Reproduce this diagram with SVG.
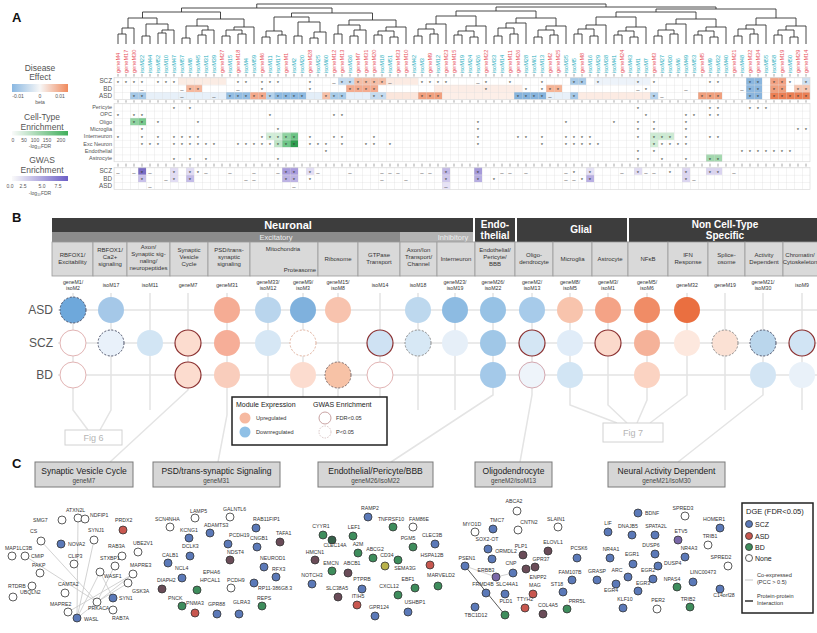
<svg xmlns="http://www.w3.org/2000/svg" width="817" height="633" viewBox="0 0 817 633" font-family="'Liberation Sans', Arial, sans-serif">
<style>
text{font-family:"Liberation Sans",Arial,sans-serif}
.pl{font-size:13px;font-weight:bold;fill:#111}
.lg{font-size:8.5px;fill:#555;text-anchor:middle}
.lgs{font-size:5px;fill:#555;text-anchor:middle}
.rl{font-size:6.3px;fill:#555;text-anchor:end}
.rs{font-size:5.5px;fill:#555;text-anchor:end}
.st{font-size:6px;fill:#333;text-anchor:middle}
.cr{font-size:5.6px;fill:#e8505b}
.cc{font-size:5.6px;fill:#26aebd}
.dend{fill:none;stroke:#333;stroke-width:0.9}
.hd{font-size:10px;font-weight:bold;fill:#fff;text-anchor:middle}
.sh{font-size:7.5px;fill:#eee;text-anchor:middle}
.mb{fill:#d9d9d9;stroke:#9a9a9a;stroke-width:0.8}
.mt{font-size:6px;fill:#333;text-anchor:middle}
.mid{font-size:5.2px;fill:#333;text-anchor:middle}
.gl{fill:none;stroke:#e4e4e4;stroke-width:1.5}
.dl{font-size:12px;fill:#555;text-anchor:end}
.dsh{stroke:#4a4f66;stroke-width:1;stroke-dasharray:2 1.6}
.dsl{stroke:#8a8a8a;stroke-width:1;stroke-dasharray:2 1.6}
.sig{stroke:#8b3030;stroke-width:1.2}
.pk{stroke:#e2b4b4;stroke-width:1}
.fig{fill:#fff;stroke:#d2d2d2;stroke-width:1}
.figt{font-size:9px;fill:#b5b5b5;text-anchor:middle}
.cb{fill:#d6d6d6;stroke:#7a7a7a;stroke-width:1}
.ct{font-size:8.5px;fill:#222;text-anchor:middle}
.cs{font-size:6.3px;fill:#444;text-anchor:middle}
.nl{font-size:5.2px;fill:#333}
.nm{font-size:5.2px;fill:#333;text-anchor:middle}
.n{stroke:#333;stroke-width:0.8}
.nb{fill:#5b79b8}.nr{fill:#c8574f}.ng{fill:#3e8d5c}.nw{fill:#fff}.nd{fill:#6a4c58}.ny{fill:#b9b24a}.np{fill:#7a68a8}.ndg{fill:#35604a}
.ce{stroke:#c6c6c6;stroke-width:0.8;fill:none}
.pe{stroke:#5a5a5a;stroke-width:1;fill:none}
.leg{font-size:7px;fill:#222}
.legs{font-size:5.6px;fill:#333}
</style>
<defs>
<linearGradient id="gDE" x1="0" x2="1"><stop offset="0" stop-color="#8ab8e2"/><stop offset="0.5" stop-color="#f7f7f7"/><stop offset="1" stop-color="#f08a5d"/></linearGradient>
<linearGradient id="gCT" x1="0" x2="1"><stop offset="0" stop-color="#fafafa"/><stop offset="1" stop-color="#3fae5a"/></linearGradient>
<linearGradient id="gGW" x1="0" x2="1"><stop offset="0" stop-color="#fafafa"/><stop offset="1" stop-color="#6c5fc7"/></linearGradient>
<pattern id="gA" x="114" y="77.5" width="8" height="7.3" patternUnits="userSpaceOnUse"><path d="M0 0V7.3M0 0H8" stroke="#d8d8d8" stroke-width="0.6" fill="none"/></pattern>
<pattern id="gB" x="114" y="103.35" width="8" height="7.3" patternUnits="userSpaceOnUse"><path d="M0 0V7.3M0 0H8" stroke="#d8d8d8" stroke-width="0.6" fill="none"/></pattern>
<pattern id="gC" x="114" y="167.5" width="8" height="7.3" patternUnits="userSpaceOnUse"><path d="M0 0V7.3M0 0H8" stroke="#d8d8d8" stroke-width="0.6" fill="none"/></pattern>
<pattern id="tk" x="114" y="0" width="8" height="633" patternUnits="userSpaceOnUse"><path d="M4 0V633" stroke="#666" stroke-width="0.6"/></pattern>
</defs>
<rect width="817" height="633" fill="#fff"/>

<!-- ===== PANEL A ===== -->
<g id="panelA">
<text class="pl" x="12" y="22">A</text>
<g id="legendA">
<text class="lg" x="40" y="70.5">Disease</text><text class="lg" x="40" y="80.1">Effect</text>
<rect x="12" y="84" width="56" height="8" fill="url(#gDE)"/>
<text class="lgs" x="18" y="98">-0.01</text><text class="lgs" x="40" y="98">0</text><text class="lgs" x="60" y="98">0.01</text>
<text class="lgs" x="40" y="104">beta</text>
<text class="lg" x="42" y="120">Cell-Type</text><text class="lg" x="42" y="129.6">Enrichment</text>
<rect x="12" y="131" width="56" height="4.5" fill="url(#gCT)"/>
<text class="lgs" x="13" y="142">0</text><text class="lgs" x="24" y="142">50</text><text class="lgs" x="35" y="142">100</text><text class="lgs" x="47" y="142">150</text><text class="lgs" x="61" y="142">200</text>
<text class="lgs" x="40" y="148">-log₁₀FDR</text>
<text class="lg" x="42" y="163">GWAS</text><text class="lg" x="42" y="172.6">Enrichment</text>
<rect x="12" y="176" width="56" height="5" fill="url(#gGW)"/>
<text class="lgs" x="10" y="188">0.0</text><text class="lgs" x="23" y="188">2.5</text><text class="lgs" x="42" y="188">5.0</text><text class="lgs" x="58" y="188">7.5</text>
<text class="lgs" x="40" y="195">-log₁₀FDR</text>
</g>

<g id="dendrogram">
<path class="dend" d="M118 44V34H126V44M122 34V28H134V44M142 44V36H150V44M158 44V33H166V44M162 33V30H174V44M146 36V24H168V30M182 44V38H190V44M198 44V35H206V44M202 35V30H214V44M186 38V26H208V30M222 44V36H230V44M238 44V34H246V44M226 36V30H242V34M234 30V27H254V44M262 44V37H270V44M278 44V35H286V44M266 37V31H282V35M294 44V36H302V44M310 44V38H318V44M314 38V32H326V44M298 36V22H320V32M334 44V34H342V44M350 44V36H358V44M354 36V30H366V44M338 34V25H360V30M374 44V35H382V44M390 44V37H398V44M378 35V31H394V37M386 31V27H406V44M414 44V36H422V44M430 44V34H438V44M418 36V29H434V34M426 29V24H446V44M454 44V35H462V44M470 44V37H478V44M458 35V31H474V37M466 31V26H486V44M494 44V36H502V44M510 44V34H518V44M498 36V28H514V34M506 28V23H526V44M534 44V37H542V44M550 44V35H558V44M538 37V30H554V35M546 30V26H566V44M574 44V34H582V44M590 44V36H598V44M578 34V29H594V36M586 29V25H606V44M614 44V35H622V44M630 44V37H638V44M618 35V31H634V37M626 31V27H646V44M654 44V36H662V44M670 44V34H678V44M658 36V30H674V34M666 30V24H686V44M694 44V35H702V44M710 44V37H718V44M698 35V31H714V37M706 31V27H726V44M734 44V36H742V44M750 44V34H758V44M738 36V29H754V34M746 29V25H766V44M774 44V35H782V44M790 44V37H798V44M778 35V30H794V37M786 30V26H806V44M128 28V18H157V24M197 26V19H244V27M274 31V17H309V22M349 25V20H396V27M436 24V16H476V26M516 23V18H556V26M596 25V17H636V27M676 24V19H716V27M756 25V18H796V26M142.5 18V12H220.5V19M291.5 17V13H372.5V20M456 16V11H536V18M616 17V12H696V19M656 12V9H776V18M181.5 12V8H332V13M496 11V7H716V9M256.75 8V4H606V7"/>
</g>

<g id="columnLabels" transform="rotate(-90)">
<text class="cr" x="-73" y="120">geneM4</text><text class="cr" x="-73" y="128">geneM17</text><text class="cr" x="-73" y="136">geneM30</text><text class="cc" x="-73" y="144">isoM22</text><text class="cc" x="-73" y="152">isoM44</text><text class="cc" x="-73" y="160">isoM52</text><text class="cc" x="-73" y="168">isoM10</text><text class="cc" x="-73" y="176">isoM47</text><text class="cc" x="-73" y="184">isoM57</text><text class="cc" x="-73" y="192">isoM8</text><text class="cc" x="-73" y="200">isoM45</text><text class="cc" x="-73" y="208">isoM31</text><text class="cc" x="-73" y="216">isoM39</text><text class="cr" x="-73" y="224">geneM27</text><text class="cc" x="-73" y="232">isoM15</text><text class="cr" x="-73" y="240">geneM18</text><text class="cc" x="-73" y="248">isoM4</text><text class="cc" x="-73" y="256">isoM59</text><text class="cr" x="-73" y="264">geneM6</text><text class="cc" x="-73" y="272">isoM11</text><text class="cc" x="-73" y="280">isoM17</text><text class="cr" x="-73" y="288">geneM1</text><text class="cc" x="-73" y="296">isoM2</text><text class="cc" x="-73" y="304">isoM20</text><text class="cr" x="-73" y="312">geneM28</text><text class="cc" x="-73" y="320">isoM25</text><text class="cc" x="-73" y="328">isoM60</text><text class="cr" x="-73" y="336">geneM12</text><text class="cr" x="-73" y="344">geneM13</text><text class="cc" x="-73" y="352">isoM36</text><text class="cr" x="-73" y="360">geneM7</text><text class="cr" x="-73" y="368">geneM31</text><text class="cr" x="-73" y="376">geneM20</text><text class="cc" x="-73" y="384">isoM18</text><text class="cc" x="-73" y="392">isoM51</text><text class="cr" x="-73" y="400">geneM33</text><text class="cr" x="-73" y="408">geneM10</text><text class="cc" x="-73" y="416">isoM42</text><text class="cc" x="-73" y="424">isoM3</text><text class="cr" x="-73" y="432">geneM9</text><text class="cc" x="-73" y="440">isoM12</text><text class="cr" x="-73" y="448">geneM23</text><text class="cr" x="-73" y="456">geneM15</text><text class="cc" x="-73" y="464">isoM19</text><text class="cc" x="-73" y="472">isoM24</text><text class="cc" x="-73" y="480">isoM26</text><text class="cr" x="-73" y="488">geneM22</text><text class="cc" x="-73" y="496">isoM33</text><text class="cc" x="-73" y="504">isoM14</text><text class="cr" x="-73" y="512">geneM11</text><text class="cr" x="-73" y="520">geneM26</text><text class="cc" x="-73" y="528">isoM28</text><text class="cc" x="-73" y="536">isoM61</text><text class="cc" x="-73" y="544">isoM13</text><text class="cr" x="-73" y="552">geneM2</text><text class="cr" x="-73" y="560">geneM25</text><text class="cc" x="-73" y="568">isoM35</text><text class="cc" x="-73" y="576">isoM5</text><text class="cr" x="-73" y="584">geneM8</text><text class="cc" x="-73" y="592">isoM16</text><text class="cc" x="-73" y="600">isoM29</text><text class="cc" x="-73" y="608">isoM38</text><text class="cc" x="-73" y="616">isoM41</text><text class="cr" x="-73" y="624">geneM24</text><text class="cc" x="-73" y="632">isoM43</text><text class="cc" x="-73" y="640">isoM1</text><text class="cc" x="-73" y="648">isoM7</text><text class="cr" x="-73" y="656">geneM3</text><text class="cc" x="-73" y="664">isoM27</text><text class="cc" x="-73" y="672">isoM30</text><text class="cc" x="-73" y="680">isoM6</text><text class="cc" x="-73" y="688">isoM49</text><text class="cc" x="-73" y="696">isoM53</text><text class="cr" x="-73" y="704">geneM5</text><text class="cc" x="-73" y="712">isoM9</text><text class="cc" x="-73" y="720">isoM32</text><text class="cc" x="-73" y="728">isoM40</text><text class="cr" x="-73" y="736">geneM21</text><text class="cc" x="-73" y="744">isoM48</text><text class="cr" x="-73" y="752">geneM32</text><text class="cr" x="-73" y="760">geneM34</text><text class="cc" x="-73" y="768">isoM55</text><text class="cc" x="-73" y="776">isoM58</text><text class="cr" x="-73" y="784">geneM19</text><text class="cc" x="-73" y="792">isoM50</text><text class="cr" x="-73" y="800">geneM29</text><text class="cr" x="-73" y="808">geneM14</text>
</g>

<g id="rowLabels">
<text class="rl" x="112" y="83.3">SCZ</text><text class="rl" x="112" y="90.6">BD</text><text class="rl" x="112" y="97.9">ASD</text>
<text class="rs" x="112" y="109">Pericyte</text><text class="rs" x="112" y="116.3">OPC</text><text class="rs" x="112" y="123.6">Oligo</text><text class="rs" x="112" y="130.9">Microglia</text><text class="rs" x="112" y="138.2">Interneuron</text><text class="rs" x="112" y="145.5">Exc Neuron</text><text class="rs" x="112" y="152.8">Endothelial</text><text class="rs" x="112" y="160.1">Astrocyte</text>
<text class="rl" x="112" y="173.3">SCZ</text><text class="rl" x="112" y="180.6">BD</text><text class="rl" x="112" y="187.9">ASD</text>
</g>

<g id="heatCells">
<rect x="178" y="77.5" width="48" height="7.3" fill="#fbece4"/>
<rect x="338" y="77.5" width="16" height="7.3" fill="#c6dcf0"/>
<rect x="354" y="77.5" width="32" height="7.3" fill="#f5bea6"/>
<rect x="386" y="77.5" width="32" height="7.3" fill="#fcebe3"/>
<rect x="594" y="77.5" width="56" height="7.3" fill="#edf3fa"/>
<rect x="570" y="77.5" width="16" height="7.3" fill="#a9cbe8"/>
<rect x="746" y="77.5" width="16" height="7.3" fill="#8ab6de"/>
<rect x="770" y="77.5" width="16" height="7.3" fill="#f2a283"/>
<rect x="802" y="77.5" width="8" height="7.3" fill="#cfe1f2"/>
<rect x="186" y="84.8" width="16" height="7.3" fill="#f6b89e"/>
<rect x="346" y="84.8" width="32" height="7.3" fill="#f4ac90"/>
<rect x="434" y="84.8" width="88" height="7.3" fill="#fcede6"/>
<rect x="546" y="84.8" width="16" height="7.3" fill="#f6b496"/>
<rect x="746" y="84.8" width="16" height="7.3" fill="#8eb8df"/>
<rect x="770" y="84.8" width="16" height="7.3" fill="#f0a07f"/>
<rect x="794" y="84.8" width="16" height="7.3" fill="#f7c7b2"/>
<rect x="130" y="92.1" width="16" height="7.3" fill="#a6c9e7"/>
<rect x="146" y="92.1" width="80" height="7.3" fill="#e7f0f9"/>
<rect x="226" y="92.1" width="24" height="7.3" fill="#94bee3"/>
<rect x="250" y="92.1" width="16" height="7.3" fill="#f3a98c"/>
<rect x="266" y="92.1" width="8" height="7.3" fill="#b4d2ec"/>
<rect x="274" y="92.1" width="32" height="7.3" fill="#8fbbe2"/>
<rect x="306" y="92.1" width="16" height="7.3" fill="#e3eef8"/>
<rect x="322" y="92.1" width="8" height="7.3" fill="#f6c0a8"/>
<rect x="330" y="92.1" width="16" height="7.3" fill="#a8cbe8"/>
<rect x="346" y="92.1" width="24" height="7.3" fill="#e6eff9"/>
<rect x="370" y="92.1" width="16" height="7.3" fill="#c5dbef"/>
<rect x="386" y="92.1" width="32" height="7.3" fill="#fbe6dc"/>
<rect x="418" y="92.1" width="24" height="7.3" fill="#f1a07f"/>
<rect x="442" y="92.1" width="72" height="7.3" fill="#fdefe8"/>
<rect x="514" y="92.1" width="32" height="7.3" fill="#87b4dd"/>
<rect x="546" y="92.1" width="24" height="7.3" fill="#e8f0f9"/>
<rect x="570" y="92.1" width="8" height="7.3" fill="#a5c8e7"/>
<rect x="578" y="92.1" width="72" height="7.3" fill="#fcebe3"/>
<rect x="650" y="92.1" width="8" height="7.3" fill="#b7d3ec"/>
<rect x="698" y="92.1" width="24" height="7.3" fill="#f0a07e"/>
<rect x="746" y="92.1" width="16" height="7.3" fill="#8ab5dd"/>
<rect x="770" y="92.1" width="40" height="7.3" fill="#eb7f55"/>
<rect x="130" y="117.95" width="8" height="7.3" fill="#8fd3a0"/>
<rect x="138" y="117.95" width="8" height="7.3" fill="#79c98e"/>
<rect x="266" y="132.55" width="16" height="7.3" fill="#d2eed8"/>
<rect x="282" y="132.55" width="8" height="7.3" fill="#8ed3a0"/>
<rect x="290" y="132.55" width="8" height="7.3" fill="#6cc485"/>
<rect x="274" y="139.85" width="8" height="7.3" fill="#bfe5c7"/>
<rect x="282" y="139.85" width="8" height="7.3" fill="#6fc688"/>
<rect x="290" y="139.85" width="8" height="7.3" fill="#2f9d4f"/>
<rect x="650" y="132.55" width="24" height="7.3" fill="#cdebd3"/>
<rect x="650" y="139.85" width="8" height="7.3" fill="#d2eed8"/>
<rect x="706" y="154.45" width="16" height="7.3" fill="#a3d8ae"/>
<rect x="138" y="167.5" width="8" height="7.3" fill="#7a6cc4"/>
<rect x="138" y="174.8" width="8" height="7.3" fill="#c9c1ea"/>
<rect x="170" y="167.5" width="8" height="14.6" fill="#e2ddf4"/>
<rect x="186" y="167.5" width="8" height="7.3" fill="#e0dbf3"/>
<rect x="186" y="174.8" width="8" height="7.3" fill="#c4bce8"/>
<rect x="282" y="167.5" width="16" height="7.3" fill="#a99cdc"/>
<rect x="282" y="174.8" width="16" height="7.3" fill="#bdb3e4"/>
<rect x="306" y="167.5" width="8" height="7.3" fill="#e2ddf4"/>
<rect x="442" y="167.5" width="8" height="7.3" fill="#c2b9e6"/>
<rect x="442" y="174.8" width="8" height="7.3" fill="#cfc8ec"/>
<rect x="442" y="182.1" width="8" height="7.3" fill="#e6e2f6"/>
<rect x="474" y="167.5" width="8" height="7.3" fill="#a59ad9"/>
<rect x="474" y="174.8" width="8" height="7.3" fill="#b7aee2"/>
<rect x="586" y="167.5" width="8" height="7.3" fill="#e5e1f5"/>
<rect x="586" y="174.8" width="8" height="7.3" fill="#b9afe3"/>
<rect x="634" y="167.5" width="8" height="7.3" fill="#e1dcf3"/>
<rect x="682" y="167.5" width="8" height="14.6" fill="#dcd6f1"/>
<rect x="706" y="167.5" width="16" height="7.3" fill="#dad4f0"/>
</g>

<g id="heatGrid">
<rect x="114" y="77.5" width="696" height="21.9" fill="url(#gA)" stroke="#d8d8d8" stroke-width="0.6"/>
<rect x="114" y="103.35" width="696" height="58.4" fill="url(#gB)" stroke="#d8d8d8" stroke-width="0.6"/>
<rect x="114" y="167.5" width="696" height="21.9" fill="url(#gC)" stroke="#d8d8d8" stroke-width="0.6"/>
<rect x="114" y="74" width="696" height="2.6" fill="url(#tk)"/>
<rect x="114" y="100.2" width="696" height="2.4" fill="url(#tk)"/>
<rect x="114" y="163.6" width="696" height="3" fill="url(#tk)"/>
</g>

<g id="heatMarks">
<text class="st" x="118 126 134 142 158 166 174 238 246 262 270 278 310 334 342 350 358 366 374 382 390 422 430 438 446 478 486 510 542 574 582 598 638 654 710 718 750 758 774 782 790 806" y="84.6">*************–******–****–****************</text>
<text class="st" x="142 182 190 198 238 262 310 350 358 366 374 486 526 542 550 558 638 646 686 742 750 758 774 782 798 806" y="91.9">––**–***********–*––******</text>
<text class="st" x="134 142 182 214 230 238 246 254 262 270 278 286 294 302 326 334 342 374 382 422 430 438 518 526 534 542 550 574 654 662 702 710 718 750 758 774 782 790 798 806" y="99.2">**––**********************–**–**********</text>
<text class="st" x="174 190 638 710 718 750 758 766" y="110.5">********</text>
<text class="st" x="118 134 142 270 334 342 646 686 694 710 718" y="117.8">***********</text>
<text class="st" x="134 142 158 198 478 566 614 638 654 686" y="125.1">**********</text>
<text class="st" x="142 278 478 638 654 686 798 806" y="132.4">********</text>
<text class="st" x="118 142 158 174 182 190 198 262 270 278 286 294 310 334 342 374 478 518 526 542 566 574 582 590 638 654 662 670 686 710 718" y="139.7">*******************************</text>
<text class="st" x="142 150 158 174 182 190 198 206 214 238 246 254 262 270 278 286 294 310 318 326 342 366 374 390 478 542 566 574 582 590 598 654 662 670 678 686" y="147">************************************</text>
<text class="st" x="326 638 654 742 750 758 766 774 782 790" y="154.3">**********</text>
<text class="st" x="174 190 206 278 638 662 686 710 718" y="161.6">*********</text>
<text class="st" x="118 134 142 150 174 190 198 206 230 254 278 286 294 310 318 350 382 390 398 422 430 446 478 502 510 526 566 574 590 622 638 646 654 670 686 710 718 734" y="174.65">––*–***––––***–––––––**––––**–*––****–</text>
<text class="st" x="142 166 174 190 246 254 286 294 310 382 406 446 478 494 566 574 582 590 686 694" y="181.95">*–**––***––***––***–</text>
<text class="st" x="150 294 446" y="189.25">–––</text>
</g>
</g>

<!-- ===== PANEL B ===== -->
<g id="panelB">
<text class="pl" x="12" y="222">B</text>
<g id="headerB">
<rect x="52" y="218" width="421" height="14" fill="#3d3d3d"/>
<rect x="52" y="232" width="348" height="10" fill="#8c8c8c"/>
<rect x="400" y="232" width="73" height="10" fill="#b3b3b3"/>
<text x="288" y="229" font-size="11px" font-weight="bold" fill="#fff" text-anchor="middle">Neuronal</text>
<text class="sh" x="276" y="240">Excitatory</text>
<text class="sh" x="453" y="240">Inhibitory</text>
<rect x="475" y="218" width="40" height="24" fill="#3d3d3d"/>
<text class="hd" x="495" y="228">Endo-</text><text class="hd" x="495" y="239">thelial</text>
<rect x="517" y="218" width="110" height="24" fill="#3d3d3d"/>
<text class="hd" x="581" y="233">Glial</text>
<rect x="629" y="218" width="188" height="24" fill="#3d3d3d"/>
<text class="hd" x="725" y="228">Non Cell-Type</text><text class="hd" x="725" y="239">Specific</text>
</g>
<g id="moduleBoxes">
<rect class="mb" x="52" y="242" width="41" height="34"/><text class="mt" x="72.5" y="257">RBFOX1/</text><text class="mt" x="72.5" y="264">Excitability</text>
<rect class="mb" x="93" y="242" width="34" height="34"/><text class="mt" x="110" y="252">RBFOX1/</text><text class="mt" x="110" y="259">Ca2+</text><text class="mt" x="110" y="266">signaling</text>
<rect class="mb" x="127" y="242" width="43" height="34"/><text class="mt" x="148.5" y="249" font-size="5.6px">Axon/</text><text class="mt" x="148.5" y="256" font-size="5.6px">Synaptic sig-</text><text class="mt" x="148.5" y="263" font-size="5.6px">naling/</text><text class="mt" x="148.5" y="270" font-size="5.6px">neuropeptides</text>
<rect class="mb" x="170" y="242" width="38" height="34"/><text class="mt" x="189" y="252">Synaptic</text><text class="mt" x="189" y="259">Vesicle</text><text class="mt" x="189" y="266">Cycle</text>
<rect class="mb" x="208" y="242" width="42" height="34"/><text class="mt" x="229" y="252">PSD/trans-</text><text class="mt" x="229" y="259">synaptic</text><text class="mt" x="229" y="266">signaling</text>
<rect class="mb" x="250" y="242" width="68" height="34"/><text class="mt" x="283" y="251">Mitochondria</text><text class="mt" x="300" y="272">Proteasome</text>
<rect class="mb" x="318" y="242" width="40" height="34"/><text class="mt" x="338" y="261">Ribosome</text>
<rect class="mb" x="358" y="242" width="42" height="34"/><text class="mt" x="379" y="257">GTPase</text><text class="mt" x="379" y="264">Transport</text>
<rect class="mb" x="400" y="242" width="37" height="34"/><text class="mt" x="418.5" y="252">Axon/Ion</text><text class="mt" x="418.5" y="259">Transport/</text><text class="mt" x="418.5" y="266">Channel</text>
<rect class="mb" x="437" y="242" width="38" height="34"/><text class="mt" x="456" y="261">Interneuron</text>
<rect class="mb" x="475" y="242" width="40" height="34"/><text class="mt" x="495" y="252">Endothelial/</text><text class="mt" x="495" y="259">Pericyte/</text><text class="mt" x="495" y="266">BBB</text>
<rect class="mb" x="515" y="242" width="38" height="34"/><text class="mt" x="534" y="257">Oligo-</text><text class="mt" x="534" y="264">dendrocyte</text>
<rect class="mb" x="553" y="242" width="39" height="34"/><text class="mt" x="572.5" y="261">Microglia</text>
<rect class="mb" x="592" y="242" width="36" height="34"/><text class="mt" x="610" y="261">Astrocyte</text>
<rect class="mb" x="628" y="242" width="40" height="34"/><text class="mt" x="648" y="261">NFκB</text>
<rect class="mb" x="668" y="242" width="40" height="34"/><text class="mt" x="688" y="257">IFN</text><text class="mt" x="688" y="264">Response</text>
<rect class="mb" x="708" y="242" width="37" height="34"/><text class="mt" x="726.5" y="257">Splice-</text><text class="mt" x="726.5" y="264">osome</text>
<rect class="mb" x="745" y="242" width="38" height="34"/><text class="mt" x="764" y="257">Activity</text><text class="mt" x="764" y="264">Dependent</text>
<rect class="mb" x="783" y="242" width="40" height="34"/><text class="mt" x="800" y="257" font-size="5.2px">Chromatin/</text><text class="mt" x="800" y="264" font-size="5.2px">Cytoskeleton</text>
</g>
<g id="moduleIds">
<text class="mid" x="73" y="284">geneM1/</text><text class="mid" x="73" y="290">isoM2</text>
<text class="mid" x="111" y="287">isoM17</text>
<text class="mid" x="150" y="287">isoM11</text>
<text class="mid" x="188" y="287">geneM7</text>
<text class="mid" x="227" y="287">geneM31</text>
<text class="mid" x="268" y="284">geneM33/</text><text class="mid" x="268" y="290">isoM12</text>
<text class="mid" x="303" y="284">geneM9/</text><text class="mid" x="303" y="290">isoM3</text>
<text class="mid" x="338" y="284">geneM15/</text><text class="mid" x="338" y="290">isoM8</text>
<text class="mid" x="380" y="287">isoM14</text>
<text class="mid" x="418" y="287">isoM18</text>
<text class="mid" x="455" y="284">geneM23/</text><text class="mid" x="455" y="290">isoM19</text>
<text class="mid" x="493" y="284">geneM26/</text><text class="mid" x="493" y="290">isoM22</text>
<text class="mid" x="532" y="284">geneM2/</text><text class="mid" x="532" y="290">isoM13</text>
<text class="mid" x="570" y="284">geneM8/</text><text class="mid" x="570" y="290">isoM5</text>
<text class="mid" x="608" y="284">geneM3/</text><text class="mid" x="608" y="290">isoM1</text>
<text class="mid" x="647" y="284">geneM5/</text><text class="mid" x="647" y="290">isoM6</text>
<text class="mid" x="687" y="287">geneM32</text>
<text class="mid" x="725" y="287">geneM19</text>
<text class="mid" x="763" y="284">geneM21/</text><text class="mid" x="763" y="290">isoM30</text>
<text class="mid" x="802" y="287">isoM9</text>
</g>
<g id="connectorsB">
<path class="gl" d="M58 310H817M58 343H817M58 375H817"/>
<path class="gl" d="M73 293V410L88 430M111 293V410L100 430M150 293V410M188 293V390L110 462M227 293V415L218 462M268 293V410M303 293V410M338 293V410M380 293V410M418 293V410M455 293V410M493 293V395L391 462M532 293V395L520 462M570 293V405L617 423M608 293V405L627 423M647 293V400L637 423M687 293V395L650 423M725 293V410M763 293V395L678 462M802 293V410"/>
</g>
<text class="dl" x="53" y="314">ASD</text><text class="dl" x="53" y="347">SCZ</text><text class="dl" x="53" y="379">BD</text>
<g id="circlesASD">
<circle cx="73" cy="310" r="13" fill="#6ea8db" class="dsh"/>
<circle cx="111" cy="310" r="13" fill="#a5c8e8"/>
<circle cx="227" cy="310" r="13" fill="#f5ac94"/>
<circle cx="268" cy="310" r="13" fill="#b9d5ed"/>
<circle cx="303" cy="310" r="13" fill="#7fb1dd"/>
<circle cx="338" cy="310" r="13" fill="#f8c3ae"/>
<circle cx="418" cy="310" r="13" fill="#bdd8ee"/>
<circle cx="455" cy="310" r="13" fill="#8dbbe2"/>
<circle cx="493" cy="310" r="13" fill="#97c2e5"/>
<circle cx="532" cy="310" r="13" fill="#a7cbea"/>
<circle cx="570" cy="310" r="13" fill="#f8c4ad"/>
<circle cx="608" cy="310" r="13" fill="#f4a386"/>
<circle cx="647" cy="310" r="13" fill="#f08c66"/>
<circle cx="687" cy="310" r="13" fill="#ea6f40"/>
</g>
<g id="circlesSCZ">
<circle cx="73" cy="343" r="13" fill="#fff" class="pk"/>
<circle cx="111" cy="343" r="13" fill="#e9f1fa" class="dsh"/>
<circle cx="150" cy="343" r="13" fill="#d2e5f4"/>
<circle cx="188" cy="343" r="13" fill="#fcdccf" class="sig"/>
<circle cx="227" cy="343" r="13" fill="#f6ae98"/>
<circle cx="268" cy="343" r="13" fill="#d6e7f5"/>
<circle cx="303" cy="343" r="13" fill="#fff" stroke="#e0b09c" stroke-width="1" stroke-dasharray="2 1.6"/>
<circle cx="380" cy="343" r="13" fill="#cfe2f3" class="sig"/>
<circle cx="418" cy="343" r="13" fill="#d7e8f5" class="dsl"/>
<circle cx="455" cy="343" r="13" fill="#e6eff8"/>
<circle cx="493" cy="343" r="13" fill="#a0c7e7"/>
<circle cx="532" cy="343" r="13" fill="#d4e6f4" class="sig"/>
<circle cx="570" cy="343" r="13" fill="#e0ecf8"/>
<circle cx="608" cy="343" r="13" fill="#fbd9cb" class="sig"/>
<circle cx="647" cy="343" r="13" fill="#f5b299"/>
<circle cx="687" cy="343" r="13" fill="#fde8de"/>
<circle cx="725" cy="343" r="13" fill="#fbe1d4" class="dsl"/>
<circle cx="763" cy="343" r="13" fill="#bad6ec" class="dsh"/>
<circle cx="802" cy="343" r="13" fill="#d1e4f4" class="sig"/>
</g>
<g id="circlesBD">
<circle cx="73" cy="375" r="13" fill="#fff" class="pk"/>
<circle cx="188" cy="375" r="13" fill="#fcdccf" class="sig"/>
<circle cx="227" cy="375" r="13" fill="#f9cdbc"/>
<circle cx="303" cy="375" r="13" fill="#fcdccf"/>
<circle cx="338" cy="375" r="13" fill="#f7c2a6" stroke="#7a6a6a" stroke-width="1" stroke-dasharray="2 1.6"/>
<circle cx="380" cy="375" r="13" fill="#fff" class="pk"/>
<circle cx="493" cy="375" r="13" fill="#a4c9e9"/>
<circle cx="532" cy="375" r="13" fill="#eef4fa" stroke="#d4a8b0" stroke-width="1"/>
<circle cx="570" cy="375" r="13" fill="#d2e5f4"/>
<circle cx="647" cy="375" r="13" fill="#fbd3c2"/>
<circle cx="763" cy="375" r="13" fill="#d3e5f4"/>
<circle cx="802" cy="375" r="13" fill="#e9f1f9"/>
</g>
<g id="fig6"><rect class="fig" x="65" y="430" width="57" height="15"/><text class="figt" x="93.5" y="441">Fig 6</text></g>
<g id="fig7"><rect class="fig" x="603" y="423" width="60" height="19"/><text class="figt" x="633" y="436">Fig 7</text></g>
<g id="legendB">
<rect x="232" y="397" width="155" height="48" fill="#fff" stroke="#222" stroke-width="1.5"/>
<text class="leg" x="236" y="407">Module Expression</text>
<text class="leg" x="313" y="407">GWAS Enrichment</text>
<circle cx="245" cy="418" r="5.5" fill="#f6b9a0"/>
<circle cx="245" cy="432" r="5.5" fill="#8fc0e6"/>
<text class="legs" x="256" y="420">Upregulated</text>
<text class="legs" x="256" y="434">Downregulated</text>
<circle cx="325" cy="418" r="6" fill="#fff" stroke="#c9a3a3" stroke-width="1"/>
<circle cx="325" cy="432" r="6" fill="#fff" stroke="#d8c4c4" stroke-width="1" stroke-dasharray="1.5 1.2"/>
<text class="legs" x="336" y="420">FDR&lt;0.05</text>
<text class="legs" x="336" y="434">P&lt;0.05</text>
</g>
</g>

<!-- ===== PANEL C ===== -->
<g id="panelC">
<text class="pl" x="12" y="468">C</text>
<g id="boxSVC"><rect class="cb" x="35" y="462" width="98" height="25"/><text class="ct" x="84" y="474">Synaptic Vesicle Cycle</text><text class="cs" x="84" y="483">geneM7</text></g>
<g id="boxPSD"><rect class="cb" x="153" y="462" width="127" height="25"/><text class="ct" x="216.5" y="474">PSD/trans-synaptic Signaling</text><text class="cs" x="216.5" y="483">geneM31</text></g>
<g id="boxEndo"><rect class="cb" x="318" y="462" width="115" height="25"/><text class="ct" x="375.5" y="474">Endothelial/Pericyte/BBB</text><text class="cs" x="375.5" y="483">geneM26/isoM22</text></g>
<g id="boxOligo"><rect class="cb" x="475" y="462" width="77" height="25"/><text class="ct" x="513.5" y="474">Oligodendrocyte</text><text class="cs" x="513.5" y="483">geneM2/isoM13</text></g>
<g id="boxNAD"><rect class="cb" x="608" y="462" width="117" height="25"/><text class="ct" x="666.5" y="474">Neural Activity Dependent</text><text class="cs" x="666.5" y="483">geneM21/isoM30</text></g>

<g id="edgesC">
<path class="ce" d="M41 541L97 602M78 518L77 618M94 540L77 618M100 572L77 618M133 574L68 612M128 583L97 602M115 565L97 602M100 572L113 598M133 574L77 618M25 556L97 602"/>
<path class="ce" d="M465 566L496 577M496 577L513 573"/>
<path class="pe" d="M465 566L505 615"/>
</g>

<g id="netSVC">
<circle class="n nw" cx="78" cy="518" r="4"/><text class="nl" x="66" y="512">ATXN2L</text>
<circle class="n nw" cx="85" cy="519" r="4"/><text class="nl" x="90" y="517">NDFIP1</text>
<circle class="n nw" cx="62" cy="520" r="4"/><text class="nl" x="33" y="522">SMG7</text>
<circle class="n nr" cx="123" cy="530" r="4"/><text class="nl" x="115" y="522">PRDX2</text>
<circle class="n nw" cx="41" cy="541" r="4"/><text class="nl" x="30" y="533">CS</text>
<circle class="n nb" cx="61" cy="544" r="4"/><text class="nl" x="68" y="546">NOVA2</text>
<circle class="n nw" cx="94" cy="540" r="4"/><text class="nl" x="88" y="532">SYNJ1</text>
<circle class="n nw" cx="122" cy="556" r="4"/><text class="nl" x="108" y="548">RAB3A</text>
<circle class="n nw" cx="138" cy="552" r="4"/><text class="nl" x="133" y="545">UBE2V1</text>
<circle class="n nw" cx="12" cy="556" r="4"/><text class="nl" x="5" y="550">MAP1LC3B</text>
<circle class="n nw" cx="25" cy="556" r="4"/><text class="nl" x="31" y="558">CMIP</text>
<circle class="n nw" cx="74" cy="564" r="4"/><text class="nl" x="68" y="558">CLIP3</text>
<circle class="n nw" cx="115" cy="566" r="4"/><text class="nl" x="100" y="560">STXBP1</text>
<circle class="n nw" cx="133" cy="574" r="4"/><text class="nl" x="130" y="567">MAPRE3</text>
<circle class="n nw" cx="40" cy="573" r="4"/><text class="nl" x="32" y="567">PAKP</text>
<circle class="n nw" cx="32" cy="586" r="4"/><text class="nl" x="8" y="588">RTDRB</text>
<circle class="n nw" cx="13" cy="597" r="4"/><text class="nl" x="20" y="594">UBQLN2</text>
<circle class="n nw" cx="65" cy="593" r="4"/><text class="nl" x="58" y="586">CAMTA2</text>
<circle class="n nw" cx="100" cy="572" r="4"/><text class="nl" x="104" y="578">WASF1</text>
<circle class="n nw" cx="128" cy="583" r="4"/><text class="nl" x="132" y="593">GSK3A</text>
<circle class="n nb" cx="113" cy="598" r="4"/><text class="nl" x="119" y="600">SYN1</text>
<circle class="n nw" cx="97" cy="602" r="4"/><text class="nl" x="88" y="610">PRKACA</text>
<circle class="n nw" cx="68" cy="612" r="4"/><text class="nl" x="50" y="606">MAPRE2</text>
<circle class="n nw" cx="113" cy="610" r="4"/><text class="nl" x="112" y="620">RAB7A</text>
<circle class="n nb" cx="77" cy="618" r="4"/><text class="nl" x="84" y="621">WASL</text>
</g>

<g id="netPSD">
<circle class="n nw" cx="170" cy="527" r="4"/><text class="nl" x="155" y="521">SCN4NHA</text>
<circle class="n nw" cx="195" cy="518" r="4"/><text class="nl" x="190" y="513">LAMP5</text>
<circle class="n nw" cx="230" cy="517" r="4"/><text class="nl" x="223" y="511">GALNTL6</text>
<circle class="n nb" cx="256" cy="528" r="4"/><text class="nl" x="253" y="521">RAB11FIP1</text>
<circle class="n nb" cx="189" cy="538" r="4"/><text class="nl" x="180" y="532">KCNG1</text>
<circle class="n nb" cx="210" cy="533" r="4"/><text class="nl" x="204" y="527">ADAMTS3</text>
<circle class="n nb" cx="228" cy="544" r="4"/><text class="nl" x="229" y="537">PCDH19</text>
<circle class="n nb" cx="257" cy="547" r="4"/><text class="nl" x="250" y="540">CNGB1</text>
<circle class="n nd" cx="280" cy="542" r="4"/><text class="nl" x="276" y="535">TAFA1</text>
<circle class="n nb" cx="190" cy="556" r="4"/><text class="nl" x="182" y="548">DCLK3</text>
<circle class="n nb" cx="168" cy="563" r="4"/><text class="nl" x="162" y="557">CALB1</text>
<circle class="n nd" cx="230" cy="560" r="4"/><text class="nl" x="227" y="554">NDST4</text>
<circle class="n nb" cx="264" cy="567" r="4"/><text class="nl" x="260" y="560">NEUROD1</text>
<circle class="n nb" cx="276" cy="577" r="4"/><text class="nl" x="272" y="571">RFX3</text>
<circle class="n nb" cx="182" cy="578" r="4"/><text class="nl" x="175" y="570">NCL4</text>
<text class="nl" x="203" y="574">EPHA6</text>
<circle class="n nd" cx="162" cy="589" r="4"/><text class="nl" x="157" y="582">DIAPH2</text>
<circle class="n ng" cx="197" cy="590" r="4"/><text class="nl" x="200" y="582">HPCAL1</text>
<circle class="n nw" cx="231" cy="588" r="4"/><text class="nl" x="227" y="582">PCDH9</text>
<circle class="n nb" cx="254" cy="583" r="4"/><text class="nl" x="258" y="590">RP11-386G8.3</text>
<circle class="n ng" cx="182" cy="606" r="4"/><text class="nl" x="168" y="600">PNCK</text>
<circle class="n nr" cx="195" cy="613" r="4"/><text class="nl" x="186" y="605">PNMA3</text>
<circle class="n nb" cx="217" cy="614" r="4"/><text class="nl" x="208" y="606">GPR88</text>
<circle class="n nb" cx="239" cy="614" r="4"/><text class="nl" x="233" y="604">GLRA3</text>
<circle class="n ng" cx="262" cy="606" r="4"/><text class="nl" x="257" y="600">REPS</text>
</g>

<g id="netEndo">
<circle class="n nb" cx="368" cy="517" r="4"/><text class="nm" x="370" y="510">RAMP2</text>
<circle class="n ng" cx="393" cy="527" r="4"/><text class="nm" x="391" y="521">TNFRSF10</text>
<circle class="n nw" cx="413" cy="527" r="4"/><text class="nm" x="419" y="521">FAM86E</text>
<circle class="n ng" cx="323" cy="535" r="4"/><text class="nm" x="321" y="528">CYYR1</text>
<circle class="n ng" cx="353" cy="536" r="4"/><text class="nm" x="354" y="529">LEF1</text>
<circle class="n ndg" cx="332" cy="540" r="4"/><text class="nm" x="335" y="547">CLEC14A</text>
<circle class="n ng" cx="413" cy="547" r="4"/><text class="nm" x="408" y="540">PGM5</text>
<circle class="n nb" cx="435" cy="544" r="4"/><text class="nm" x="432" y="537">CLEC3B</text>
<circle class="n ng" cx="358" cy="553" r="4"/><text class="nm" x="358" y="546">A2M</text>
<circle class="n ng" cx="373" cy="558" r="4"/><text class="nm" x="375" y="551">ABCG2</text>
<circle class="n nd" cx="315" cy="560" r="4"/><text class="nm" x="315" y="554">HMCN1</text>
<circle class="n ny" cx="385" cy="566" r="4"/><text class="nm" x="387" y="557">CD34</text>
<circle class="n ng" cx="398" cy="560" r="4"/><text class="nm" x="405" y="570">SEMA3G</text>
<circle class="n nr" cx="430" cy="565" r="4"/><text class="nm" x="432" y="557">HSPA12B</text>
<circle class="n ng" cx="332" cy="571" r="4"/><text class="nm" x="331" y="565">EMCN</text>
<circle class="n nd" cx="348" cy="573" r="4"/><text class="nm" x="352" y="565">ABCB1</text>
<circle class="n nb" cx="312" cy="584" r="4"/><text class="nm" x="312" y="577">NOTCH3</text>
<circle class="n ng" cx="438" cy="586" r="4"/><text class="nm" x="441" y="577">MARVELD2</text>
<circle class="n ng" cx="415" cy="588" r="4"/><text class="nm" x="408" y="581">EBF1</text>
<circle class="n nb" cx="362" cy="589" r="4"/><text class="nm" x="362" y="581">PTPRB</text>
<circle class="n nd" cx="338" cy="597" r="4"/><text class="nm" x="337" y="590">SLC38A5</text>
<circle class="n ng" cx="398" cy="595" r="4"/><text class="nm" x="389" y="588">CXCL12</text>
<circle class="n nr" cx="357" cy="605" r="4"/><text class="nm" x="358" y="598">ITIH5</text>
<circle class="n nb" cx="375" cy="616" r="4"/><text class="nm" x="379" y="609">GPR124</text>
<circle class="n nb" cx="408" cy="612" r="4"/><text class="nm" x="415" y="604">USHBP1</text>
</g>

<g id="netOligo">
<circle class="n nw" cx="517" cy="511" r="4"/><text class="nm" x="514" y="503">ABCA2</text>
<circle class="n nw" cx="475" cy="532" r="4"/><text class="nm" x="472" y="526">MYO1D</text>
<circle class="n nb" cx="493" cy="529" r="4"/><text class="nm" x="497" y="522">TMC7</text>
<circle class="n nw" cx="518" cy="530" r="4"/><text class="nm" x="529" y="524">CNTN2</text>
<circle class="n nw" cx="558" cy="527" r="4"/><text class="nm" x="556" y="521">SLAIN1</text>
<circle class="n nb" cx="488" cy="549" r="4"/><text class="nm" x="487" y="541">SOX2-OT</text>
<circle class="n nd" cx="523" cy="555" r="4"/><text class="nm" x="521" y="548">PLP1</text>
<circle class="n nd" cx="548" cy="551" r="4"/><text class="nm" x="553" y="544">ELOVL1</text>
<circle class="n nb" cx="492" cy="559" r="4"/><text class="nm" x="506" y="553">ORMDL2</text>
<circle class="n nb" cx="465" cy="566" r="4"/><text class="nm" x="467" y="560">PSEN1</text>
<circle class="n nd" cx="535" cy="567" r="4"/><text class="nm" x="541" y="561">GPR37</text>
<circle class="n nb" cx="577" cy="558" r="4"/><text class="nm" x="579" y="550">PCSK6</text>
<circle class="n nb" cx="513" cy="573" r="4"/><text class="nm" x="511" y="565">CNP</text>
<circle class="n np" cx="496" cy="577" r="4"/><text class="nm" x="486" y="572">ERBB3</text>
<circle class="n nd" cx="526" cy="569" r="4"/><text class="nm" x="538" y="579">ENPP2</text>
<circle class="n nb" cx="572" cy="580" r="4"/><text class="nm" x="570" y="574">FAM107B</text>
<circle class="n nb" cx="486" cy="593" r="4"/><text class="nm" x="483" y="586">FRMD4B</text>
<circle class="n nb" cx="505" cy="594" r="4"/><text class="nm" x="507" y="586">SLC44A1</text>
<circle class="n nr" cx="533" cy="594" r="4"/><text class="nm" x="535" y="587">MAG</text>
<circle class="n nb" cx="563" cy="592" r="4"/><text class="nm" x="557" y="586">ST18</text>
<circle class="n nr" cx="525" cy="608" r="4"/><text class="nm" x="525" y="601">TTYH2</text>
<circle class="n nd" cx="543" cy="614" r="4"/><text class="nm" x="548" y="607">COL4A5</text>
<circle class="n ng" cx="567" cy="609" r="4"/><text class="nm" x="577" y="603">PRR5L</text>
<circle class="n nb" cx="475" cy="607" r="4"/><text class="nm" x="476" y="617">TBC1D12</text>
<circle class="n ng" cx="505" cy="615" r="4"/><text class="nm" x="506" y="603">PLD1</text>
</g>

<g id="netNAD">
<circle class="n nb" cx="638" cy="513" r="4"/><text class="nl" x="645" y="515">BDNF</text>
<circle class="n nw" cx="685" cy="516" r="4"/><text class="nm" x="683" y="510">SPRED3</text>
<circle class="n nb" cx="608" cy="532" r="4"/><text class="nm" x="608" y="525">LIF</text>
<circle class="n nb" cx="632" cy="535" r="4"/><text class="nm" x="628" y="528">DNAJB5</text>
<circle class="n nb" cx="655" cy="535" r="4"/><text class="nm" x="656" y="528">SPATA2L</text>
<circle class="n nb" cx="720" cy="528" r="4"/><text class="nm" x="714" y="521">HOMER1</text>
<circle class="n np" cx="678" cy="540" r="4"/><text class="nm" x="681" y="533">ETV5</text>
<circle class="n nw" cx="708" cy="545" r="4"/><text class="nm" x="710" y="538">TRIB1</text>
<circle class="n nb" cx="655" cy="554" r="4"/><text class="nm" x="651" y="547">DUSP6</text>
<circle class="n nb" cx="610" cy="558" r="4"/><text class="nm" x="611" y="551">NR4A1</text>
<circle class="n nb" cx="633" cy="564" r="4"/><text class="nm" x="632" y="556">EGR1</text>
<circle class="n nb" cx="685" cy="557" r="4"/><text class="nm" x="689" y="550">NR4A3</text>
<circle class="n nb" cx="658" cy="566" r="4"/><text class="nl" x="664" y="565">DUSP4</text>
<circle class="n nw" cx="728" cy="566" r="4"/><text class="nm" x="721" y="559">SPRED2</text>
<circle class="n nb" cx="597" cy="580" r="4"/><text class="nm" x="597" y="573">GRASP</text>
<circle class="n nb" cx="628" cy="577" r="4"/><text class="nm" x="617" y="572">ARC</text>
<circle class="n nb" cx="653" cy="579" r="4"/><text class="nm" x="648" y="572">EGR2</text>
<circle class="n nb" cx="693" cy="582" r="4"/><text class="nm" x="703" y="574">LINC00473</text>
<circle class="n ng" cx="677" cy="587" r="4"/><text class="nm" x="672" y="581">NPAS4</text>
<circle class="n nb" cx="638" cy="591" r="4"/><text class="nm" x="643" y="585">EGR3</text>
<circle class="n nb" cx="616" cy="584" r="4"/><text class="nm" x="611" y="592">EGR4</text>
<circle class="n nb" cx="720" cy="589" r="4"/><text class="nm" x="724" y="597">C14orf28</text>
<circle class="n nb" cx="623" cy="608" r="4"/><text class="nm" x="625" y="601">KLF10</text>
<circle class="n nw" cx="657" cy="609" r="4"/><text class="nm" x="658" y="602">PER2</text>
<circle class="n ng" cx="690" cy="607" r="4"/><text class="nm" x="688" y="601">TRIB2</text>
</g>

<g id="legendC">
<rect x="742" y="503" width="71" height="110" fill="#fff" stroke="#222" stroke-width="1.5"/>
<text x="746" y="514" font-size="7.5px" fill="#222">DGE (FDR&lt;0.05)</text>
<circle class="n nb" cx="749" cy="524" r="3.5"/><text class="leg" x="755" y="526.5">SCZ</text>
<circle class="n nr" cx="749" cy="536" r="3.5"/><text class="leg" x="755" y="538.5">ASD</text>
<circle class="n ng" cx="749" cy="547" r="3.5"/><text class="leg" x="755" y="549.5">BD</text>
<circle class="n nw" cx="749" cy="558" r="3.5"/><text class="leg" x="755" y="560.5">None</text>
<path d="M745 580H753" stroke="#d0d0d0" stroke-width="1.2"/>
<text class="legs" x="757" y="577">Co-expressed</text><text class="legs" x="757" y="584">(PCC &gt; 0.5)</text>
<path d="M745 601H753" stroke="#333" stroke-width="1.5"/>
<text class="legs" x="757" y="598">Protein-protein</text><text class="legs" x="757" y="605">Interaction</text>
</g>
</g>
</svg>
